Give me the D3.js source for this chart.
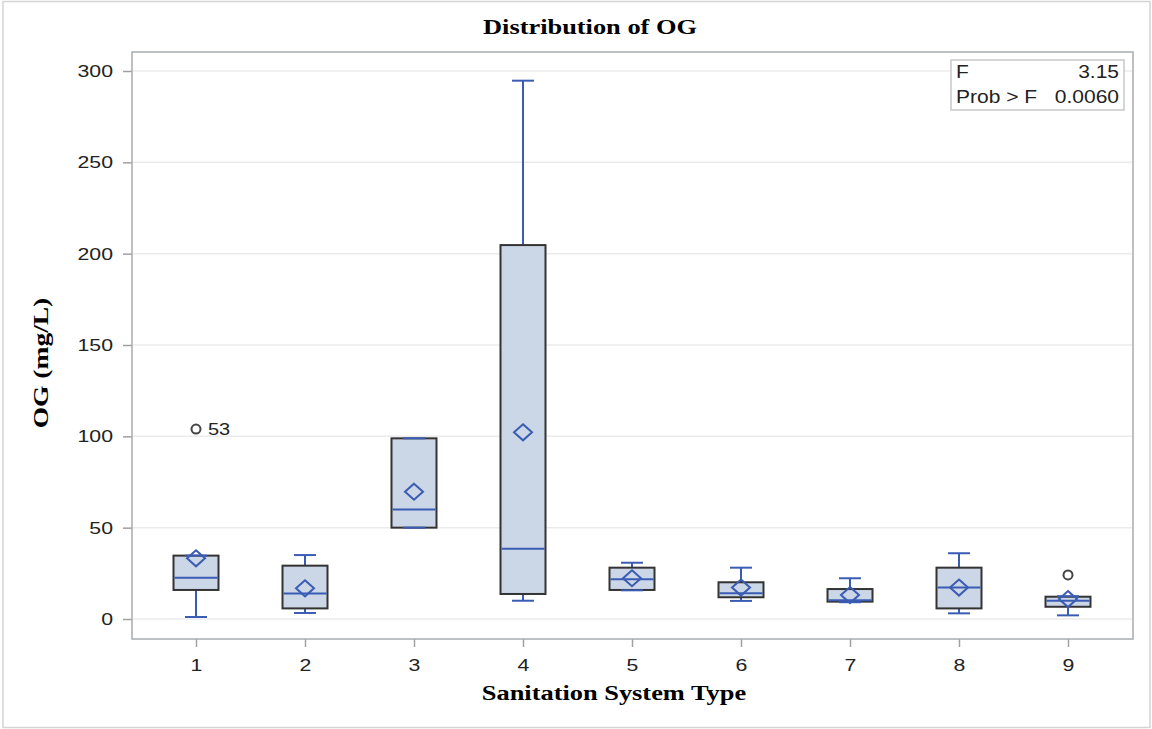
<!DOCTYPE html>
<html>
<head>
<meta charset="utf-8">
<script src="https://cdn.jsdelivr.net/npm/d3@7"></script>
<style>
  body { margin: 0; background: #fff; }
  text { font-family: "Liberation Sans", Arial, sans-serif; }
</style>
</head>
<body>
<div id="chart"></div>
<script>
// box stats
var categories = ["1", "2", "3", "4", "5", "6", "7", "8", "9"];
var whiskerLow = [1.1, 3.3, 50, 10, 15.7, 9.9, 9.2, 3.1, 2];
var q1Values = [15.9, 5.8, 50, 13.7, 15.9, 11.9, 9.5, 5.8, 6.7];
var medianValues = [22.6, 13.9, 60, 38.5, 21.7, 14.1, 10.2, 17.2, 10];
var q3Values = [34.7, 29.2, 98.9, 204.7, 28.1, 20.1, 16.4, 28.1, 12.2];
var whiskerHigh = [34.7, 35, 98.9, 294.7, 30.8, 28.1, 22.3, 36, 12.5];
var meanValues = [33.2, 16.8, 69.7, 102.2, 22.3, 17.2, 13.1, 17.2, 10.9];
var outliers = [
  { cat: "1", value: 104, label: "53" },
  { cat: "9", value: 24.1, label: "" }
];
var yTicks = [0, 50, 100, 150, 200, 250, 300];
var statLabels = ["F", "Prob > F"];
var statValues = ["3.15", "0.0060"];

var svgWidth = 1152;
var svgHeight = 729;
// the original fonts run wider than the ones we have, so stretch text a bit
var sansStretch = 1.25;
var serifStretch = 1.2;

var svg = d3.select("#chart")
  .append("svg")
  .attr("width", svgWidth)
  .attr("height", svgHeight);

// outer border
svg.append("rect")
  .attr("x", 3).attr("y", 1.5)
  .attr("width", 1147).attr("height", 726)
  .attr("fill", "none")
  .attr("stroke", "#d4d4d4")
  .attr("stroke-width", 1.5);

var plot = { left: 132, top: 52, right: 1133, bottom: 639 };

var y = d3.scaleLinear()
  .domain([0, 300])
  .range([619, 71]);

var x = d3.scalePoint()
  .domain(categories)
  .range([196, 1068]);

// gridlines
svg.append("g")
  .selectAll("line")
  .data(yTicks)
  .enter()
  .append("line")
  .attr("x1", plot.left)
  .attr("x2", plot.right)
  .attr("y1", d => y(d))
  .attr("y2", d => y(d))
  .attr("stroke", "#ebebeb")
  .attr("stroke-width", 1.5);

// axes
var leftAxis = d3.axisLeft(y).tickValues(yTicks).tickSize(9);
var bottomAxis = d3.axisBottom(x).tickSize(8).tickPadding(12);

var gy = svg.append("g")
  .attr("transform", `translate(${plot.left}, 0)`)
  .call(leftAxis);
var gx = svg.append("g")
  .attr("transform", `translate(0, ${plot.bottom})`)
  .call(bottomAxis);

[gy, gx].forEach(function(g) {
  g.select(".domain").remove();
  g.selectAll(".tick line").attr("stroke", "#a0a0a0").attr("stroke-width", 1.5);
  g.selectAll(".tick text")
    .attr("fill", "#222")
    .attr("transform", `scale(${sansStretch},1)`)
    .style("font-size", "17px")
    .style("font-family", "'Liberation Sans', Arial, sans-serif");
});
gy.selectAll(".tick text").attr("x", -19 / sansStretch);

// plot frame
svg.append("rect")
  .attr("x", plot.left).attr("y", plot.top)
  .attr("width", plot.right - plot.left)
  .attr("height", plot.bottom - plot.top)
  .attr("fill", "none")
  .attr("stroke", "#a8acaf")
  .attr("stroke-width", 1.5);

var boxData = categories.map(function(c, i) {
  return {
    cat: c,
    lo: whiskerLow[i], q1: q1Values[i], med: medianValues[i],
    q3: q3Values[i], hi: whiskerHigh[i], mean: meanValues[i]
  };
});

var boxW = 45;
var capW = 22;
var blue = "#3a5cb4";
var boxes = svg.append("g")
  .selectAll("g")
  .data(boxData)
  .enter()
  .append("g")
  .attr("transform", d => `translate(${x(d.cat)}, 0)`);

// whisker stems
boxes.append("line")
  .attr("x1", 0).attr("x2", 0)
  .attr("y1", d => y(d.q3)).attr("y2", d => y(d.hi))
  .attr("stroke", blue).attr("stroke-width", 2);
boxes.append("line")
  .attr("x1", 0).attr("x2", 0)
  .attr("y1", d => y(d.q1)).attr("y2", d => y(d.lo))
  .attr("stroke", blue).attr("stroke-width", 2);

// boxes
boxes.append("rect")
  .attr("x", -boxW / 2)
  .attr("width", boxW)
  .attr("y", d => y(d.q3))
  .attr("height", d => y(d.q1) - y(d.q3))
  .attr("fill", "#cbd6e6")
  .attr("stroke", "#333")
  .attr("stroke-width", 2);

// caps
boxes.append("line")
  .attr("x1", -capW / 2).attr("x2", capW / 2)
  .attr("y1", d => y(d.hi)).attr("y2", d => y(d.hi))
  .attr("stroke", blue).attr("stroke-width", 2);
boxes.append("line")
  .attr("x1", -capW / 2).attr("x2", capW / 2)
  .attr("y1", d => y(d.lo)).attr("y2", d => y(d.lo))
  .attr("stroke", blue).attr("stroke-width", 2);

// median
boxes.append("line")
  .attr("x1", -boxW / 2 + 1).attr("x2", boxW / 2 - 1)
  .attr("y1", d => y(d.med)).attr("y2", d => y(d.med))
  .attr("stroke", blue).attr("stroke-width", 2);

// mean diamond
boxes.append("path")
  .attr("d", d => {
    var cy = y(d.mean);
    return `M0,${cy - 8} L9,${cy} L0,${cy + 8} L-9,${cy} Z`;
  })
  .attr("fill", "none")
  .attr("stroke", blue)
  .attr("stroke-width", 2);

// outliers
var out = svg.append("g")
  .selectAll("g")
  .data(outliers)
  .enter()
  .append("g");
out.append("circle")
  .attr("cx", d => x(d.cat))
  .attr("cy", d => y(d.value))
  .attr("r", 4.5)
  .attr("fill", "none")
  .attr("stroke", "#444")
  .attr("stroke-width", 2);
out.append("text")
  .attr("transform", d => `translate(${x(d.cat) + 12}, ${y(d.value) + 6}) scale(${sansStretch},1)`)
  .attr("fill", "#222")
  .style("font-size", "16px")
  .text(d => d.label);

// stats inset
var inset = svg.append("g");
inset.append("rect")
  .attr("x", 951).attr("y", 60)
  .attr("width", 173).attr("height", 50)
  .attr("fill", "#fff")
  .attr("stroke", "#c8c8c8")
  .attr("stroke-width", 1.5);
inset.selectAll(".slab")
  .data(statLabels)
  .enter()
  .append("text")
  .attr("transform", (d, i) => `translate(956, ${78 + i * 25}) scale(1.2,1)`)
  .attr("fill", "#222")
  .style("font-size", "17.5px")
  .text(d => d);
inset.selectAll(".sval")
  .data(statValues)
  .enter()
  .append("text")
  .attr("transform", (d, i) => `translate(1119, ${78 + i * 25}) scale(1.2,1)`)
  .attr("text-anchor", "end")
  .attr("fill", "#222")
  .style("font-size", "17.5px")
  .text(d => d);

// titles
function serifText(sel) {
  return sel
    .attr("text-anchor", "middle")
    .style("font-family", "'Liberation Serif', 'Times New Roman', serif")
    .style("font-weight", "bold")
    .style("font-size", "22px");
}

svg.append("text")
  .attr("transform", `translate(590, 34) scale(${serifStretch},1)`)
  .call(serifText)
  .text("Distribution of OG");

svg.append("text")
  .attr("transform", `translate(614, 700) scale(${serifStretch},1)`)
  .call(serifText)
  .text("Sanitation System Type");

svg.append("text")
  .attr("transform", `translate(48, 363) rotate(-90) scale(${serifStretch + 0.05},1)`)
  .call(serifText)
  .text("OG (mg/L)");
</script>
</body>
</html>
